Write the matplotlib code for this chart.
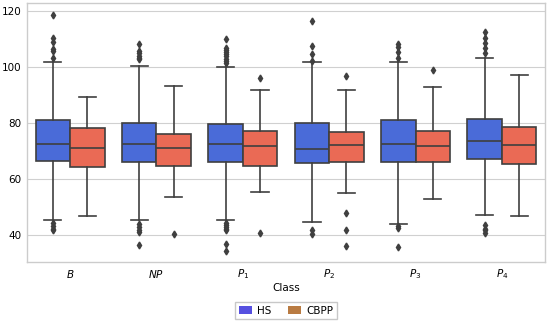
import matplotlib.pyplot as plt
from matplotlib.patches import Patch

# Classes on the x axis
classes = ['$B$', '$NP$', '$P_1$', '$P_2$', '$P_3$', '$P_4$']

# HS box statistics per class
hs_q1 = [66.7, 66.0, 66.0, 65.8, 66.1, 67.4]
hs_med = [72.5, 72.5, 72.5, 70.7, 72.5, 73.7]
hs_q3 = [81.0, 80.1, 79.6, 80.2, 81.0, 81.7]
hs_whislo = [45.6, 45.6, 45.4, 44.8, 43.9, 47.1]
hs_whishi = [101.9, 100.6, 100.1, 101.8, 102.0, 103.2]
hs_fliers = [
    [118.6, 110.6, 109.0, 106.5, 105.7, 103.5, 44.2, 43.2, 42.1, 41.8],
    [108.5, 105.8, 105.0, 104.2, 103.5, 102.8, 44.0, 43.0, 42.0, 41.0, 36.4],
    [110.0, 107.0, 106.3, 105.5, 104.8, 104.0, 103.0, 102.2, 101.4,
     44.5, 43.7, 43.0, 42.3, 41.8, 37.0, 34.4],
    [116.5, 107.5, 104.6, 102.4, 41.8, 40.6],
    [108.2, 107.2, 105.5, 103.5, 43.4, 42.6, 35.8],
    [112.6, 110.5, 108.6, 106.8, 105.0, 43.6, 42.4, 41.7, 40.8],
]

# CBPP box statistics per class
cb_q1 = [64.5, 64.6, 64.9, 66.0, 66.0, 65.5]
cb_med = [71.2, 71.0, 71.8, 72.2, 72.0, 72.2]
cb_q3 = [78.3, 76.3, 77.1, 76.9, 77.1, 78.5]
cb_whislo = [46.8, 53.7, 55.5, 55.1, 52.9, 46.8]
cb_whishi = [89.4, 93.3, 91.8, 91.8, 93.0, 97.3]
cb_fliers = [
    [],
    [40.4],
    [96.3, 40.8],
    [96.9, 48.0, 42.0, 36.2],
    [99.0],
    [],
]

hs_color = '#4A6BD8'
cb_color = '#EA6A55'
line_color = '#3f3f3f'


def make_stats(q1, med, q3, lo, hi, fl):
    stats = []
    for i in range(len(q1)):
        stats.append({'q1': q1[i], 'med': med[i], 'q3': q3[i],
                      'whislo': lo[i], 'whishi': hi[i], 'fliers': fl[i]})
    return stats


fig = plt.figure(figsize=(5.5, 3.26), dpi=100)
ax = fig.add_axes([0.049, 0.196, 0.942, 0.795])

positions = list(range(len(classes)))
common = dict(widths=0.4, patch_artist=True, showfliers=True,
              medianprops=dict(color=line_color, linewidth=1.2),
              whiskerprops=dict(color=line_color, linewidth=1.2),
              capprops=dict(color=line_color, linewidth=1.2),
              flierprops=dict(marker='d', markerfacecolor=line_color,
                              markeredgecolor=line_color, markersize=3.5))

ax.bxp(make_stats(hs_q1, hs_med, hs_q3, hs_whislo, hs_whishi, hs_fliers),
       positions=[p - 0.2 for p in positions],
       boxprops=dict(facecolor=hs_color, edgecolor=line_color, linewidth=1.2),
       **common)
ax.bxp(make_stats(cb_q1, cb_med, cb_q3, cb_whislo, cb_whishi, cb_fliers),
       positions=[p + 0.2 for p in positions],
       boxprops=dict(facecolor=cb_color, edgecolor=line_color, linewidth=1.2),
       **common)

ax.set_xlim(-0.5, 5.5)
ax.set_ylim(30.4, 123)
ax.set_yticks([40, 60, 80, 100, 120])
ax.set_xticks(positions)
ax.set_xticklabels(classes)
ax.tick_params(axis='both', length=0, labelsize=7.5, pad=4)
ax.set_xlabel('Class', fontsize=7.5, labelpad=1)
ax.grid(axis='y', color='#d0d0d0', linewidth=0.8)
ax.set_axisbelow(True)
for s in ax.spines.values():
    s.set_color('#cccccc')
    s.set_linewidth(1.0)

# Legend below the plot
handles = [Patch(facecolor='#5650E0', edgecolor='none', label='HS'),
           Patch(facecolor='#B97B42', edgecolor='none', label='CBPP')]
fig.legend(handles=handles, loc='center', bbox_to_anchor=(0.52, 0.047),
           ncol=2, fontsize=7.5, frameon=True, fancybox=False,
           edgecolor='#bbbbbb', handlelength=1.3, handleheight=0.8,
           handletextpad=0.5, columnspacing=1.5, borderpad=0.35)

fig.savefig('out.png', dpi=100)
